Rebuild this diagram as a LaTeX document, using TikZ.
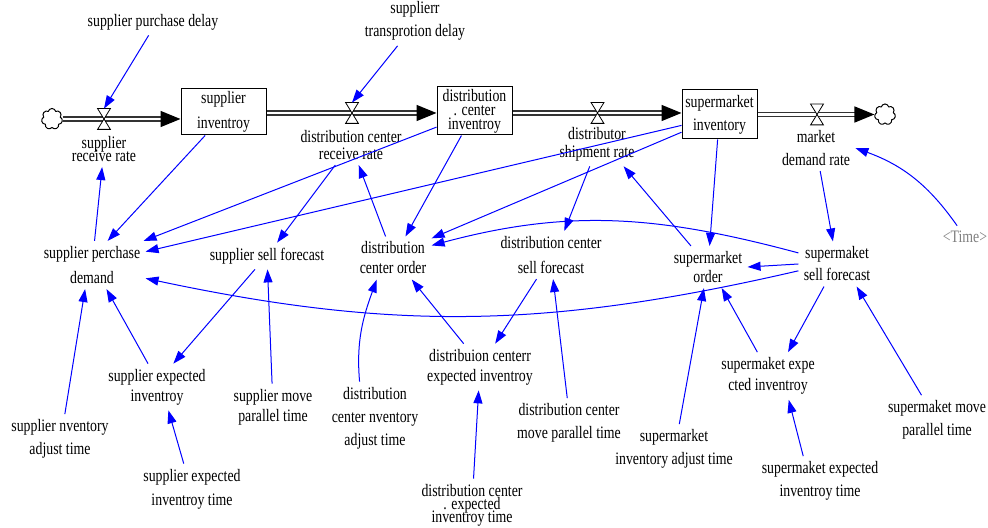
\documentclass[tikz,border=0pt]{standalone}
\usepackage{fontspec}
\setmainfont{Liberation Serif}[FakeStretch=0.79]
\usetikzlibrary{shapes,shapes.symbols,backgrounds,arrows.meta}

\tikzset{
  aux/.style={align=center, inner sep=2.5pt, font=\fontsize{8.75pt}{11.5pt}\selectfont},
  lvl/.style={aux, draw, fill=white, line width=0.5pt, inner sep=1pt},
  valve/.style={minimum width=6pt, minimum height=10pt, inner sep=0pt},
  sink/.style={cloud, draw, cloud puffs=7, aspect=1, minimum width=10.5pt, minimum height=10.5pt, inner sep=0pt, line width=0.5pt},
  pipe/.style={draw=black!80, double, double distance=1.25pt, line width=0.75pt, -{Triangle[length=10pt,width=8pt,color=black]}},
  link/.style={draw=blue, line width=0.5pt, -{Triangle[length=6.5pt,width=4.5pt]}}
}

\begin{document}
\begin{tikzpicture}[x=0.5pt,y=0.5pt]
\useasboundingbox (0,0) rectangle (988,-528);
\node[sink] (C1) at (52,-119) {};
\node[valve] (V1) at (104,-119) {};
\node[lvl, minimum width=42.5pt, minimum height=23pt] (L1) at (223.5,-112) {supplier\\[1pt]inventroy};
\node[valve] (V2) at (352,-113) {};
\node[lvl, minimum width=37.5pt, minimum height=24pt] (L2) at (474.5,-111) {distribution\\[-4.5pt]. center\\[-4.5pt]inventroy};
\node[valve] (V3) at (597.5,-113) {};
\node[lvl, minimum width=37.5pt, minimum height=24.5pt] (L3) at (719.5,-114.5) {supermarket\\inventory};
\node[valve] (V4) at (817,-114.5) {};
\node[sink] (C2) at (885,-114.5) {};
\begin{scope}[on background layer]
\draw[pipe] (C1.east) -- (L1.west |- C1.east);
\draw[pipe] (L1.east |- V2) -- (L2.west |- V2);
\draw[pipe] (L2.east |- V3) -- (L3.west |- V3);
\draw[pipe] (L3.east |- V4) -- (C2.west |- V4);
\end{scope}
\foreach \v in {V1,V2,V3,V4}
  \draw[fill=white, line width=0.4pt] (\v.north west) -- (\v.north east) -- (\v.south west) -- (\v.south east) -- cycle;

\node[aux] (SPDL) at (153,-22) {supplier purchase delay};
\node[aux] (SRR) at (104,-149) {supplier\\[-5pt]receive rate};
\node[aux] (STD) at (415,-21) {supplierr\\transprotion delay};
\node[aux] (DCRR) at (351,-145) {distribution center\\[-3pt]receive rate};
\node[aux] (DSR) at (597,-144) {distributor\\[-2.5pt]shipment rate};
\node[aux] (MDR) at (816,-148) {market\\demand rate};
\node[aux, text=gray] (TIME) at (965,-237) {<Time>};
\node[aux] (SPD) at (92,-265) {supplier perchase\\[1pt]demand};
\node[aux] (SSF) at (267,-256) {supplier sell forecast};
\node[aux] (DCO) at (393,-258) {distribution\\[-1.5pt]center order};
\node[aux] (DCSF) at (551,-255) {distribution center\\[1pt]sell forecast};
\node[aux] (SMO) at (708,-267) {supermarket\\[-2pt]order};
\node[aux] (SMSF) at (837,-264) {supermaket\\[-0.5pt]sell forecast};
\node[aux] (SEI) at (157,-387) {supplier expected\\[-1.5pt]inventroy};
\node[aux] (DCEI) at (480,-367) {distribuion centerr\\[-1.5pt]expected inventroy};
\node[aux] (SMEI) at (768,-376) {supermaket expe\\[-1pt]cted inventroy};
\node[aux] (SIAT) at (60,-439) {supplier nventory\\adjust time};
\node[aux] (SMPT) at (273,-407) {supplier move\\[-1.5pt]parallel time};
\node[aux] (DCIAT) at (375,-418) {distribution\\center nventory\\adjust time};
\node[aux] (DCMPT) at (569,-423) {distribution center\\move parallel time};
\node[aux] (SMIAT) at (674,-449) {supermarket\\inventory adjust time};
\node[aux] (SMMPT) at (937,-420) {supermaket move\\parallel time};
\node[aux] (SEIT) at (192,-489) {supplier expected\\[0.5pt]inventroy time};
\node[aux] (SMEIT) at (820,-481) {supermaket expected\\inventroy time};
\node[aux] (DCEIT) at (472,-505) {distribution center\\[-5pt]. expected\\[-5pt]inventroy time};

\draw[link] (SPDL.252) -- (V1.north);
\draw[link] (STD.235) -- (V2.north);
\draw[link] (SPD.84) -- (SRR);
\draw[link] (L1.232) -- (SPD.57);
\draw[link] (L2.203) -- (SPD.25);
\draw[link] (L3.196) -- (SPD.14);
\draw[link] (DCRR.232) -- (SSF.53);
\draw[link] (DCO.109) -- (DCRR.-69);
\draw[link] (L2.242) -- (DCO.60);
\draw[link] (L3.205) -- (DCO.27);
\draw[link] (SMSF.164) to[out=165,in=15] (DCO.18);
\draw[link] (DSR.252) -- (DCSF.61);
\draw[link] (SMO.129) -- (DSR.-40);
\draw[link] (L3) -- (SMO);
\draw[link] (MDR) -- (SMSF);
\draw[link] (TIME) to[out=125,in=-20] (MDR.east);
\draw[link] (SMSF.west) -- (SMO.east);
\draw[link] (SMSF.190) to[out=193,in=-12] (SPD.-14);
\draw[link] (SMSF.240) -- (SMEI.50);
\draw[link] (SMMPT.122) -- (SMSF.-49);
\draw[link] (SMEIT.124) -- (SMEI.-49);
\draw[link] (SMEI.114) -- (SMO.-57);
\draw[link] (SMIAT.78) -- (SMO.-101);
\draw[link] (DCSF.239) -- (DCEI.57);
\draw[link] (DCMPT.94) -- (DCSF.-85);
\draw[link] (DCEI.125) -- (DCO.-49);
\draw[link] (DCIAT.113) to[out=95,in=-110] (DCO.-127);
\draw[link] (DCEIT) -- (DCEI);
\draw[link] (SSF.228) -- (SEI.55);
\draw[link] (SMPT) -- (SSF);
\draw[link] (SEI.111) -- (SPD.-59);
\draw[link] (SIAT.79) -- (SPD.-106);
\draw[link] (SEIT.108) -- (SEI.-64);
\end{tikzpicture}
\end{document}
